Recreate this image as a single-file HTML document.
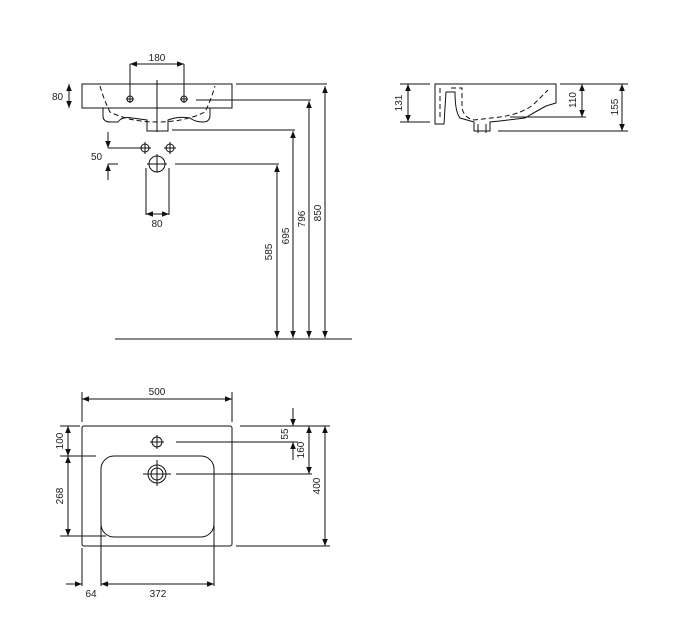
<!DOCTYPE html>
<html><head><meta charset="utf-8"><style>
html,body{margin:0;padding:0;background:#fff;}
svg{display:block;}
text{font-family:"Liberation Sans",sans-serif;font-size:10px;fill:#222;}
</style></head><body>
<svg width="676" height="644" viewBox="0 0 676 644" xmlns="http://www.w3.org/2000/svg">
<defs>
<marker id="a" viewBox="0 0 10 10" refX="10" refY="5" markerWidth="7" markerHeight="7" orient="auto-start-reverse"><path d="M0,1 L10,5 L0,9 z" fill="#111"/></marker>
</defs>
<g stroke="#111" stroke-width="1" fill="none">
<!-- FRONT VIEW -->
<rect x="82" y="84" width="150" height="24"/>
<path d="M103,108 L103,117 Q104,122 110,122 L118,122 Q122,116 132,118 L147,120 L147,131 L168,131 L168,120 Q178,116 190,118 Q195,122 203,122 Q210,122 210,115 L210,108"/>
<path d="M100,86 Q104,100 110,112 Q130,122 157,122 Q185,122 205,112 Q211,100 215,86" stroke-dasharray="5,3"/>
<line x1="157" y1="80" x2="157" y2="132"/>
<circle cx="130" cy="99" r="3"/><line x1="126" y1="99" x2="134" y2="99"/><line x1="130" y1="95" x2="130" y2="103"/>
<circle cx="184" cy="99" r="3"/><line x1="180" y1="99" x2="188" y2="99"/><line x1="184" y1="95" x2="184" y2="103"/>
<line x1="130" y1="64" x2="130" y2="98"/><line x1="184" y1="64" x2="184" y2="98"/>
<line x1="130" y1="64" x2="184" y2="64" marker-start="url(#a)" marker-end="url(#a)"/>
<line x1="69" y1="84" x2="69" y2="108" marker-start="url(#a)" marker-end="url(#a)"/>
<line x1="236" y1="84" x2="327" y2="84"/>
<line x1="196" y1="100" x2="311" y2="100"/>
<line x1="172" y1="130" x2="295" y2="130"/>
<line x1="175" y1="164" x2="279" y2="164"/>
<line x1="325" y1="86" x2="325" y2="338" marker-start="url(#a)" marker-end="url(#a)"/>
<line x1="309" y1="101" x2="309" y2="338" marker-start="url(#a)" marker-end="url(#a)"/>
<line x1="293" y1="131" x2="293" y2="338" marker-start="url(#a)" marker-end="url(#a)"/>
<line x1="277" y1="165" x2="277" y2="338" marker-start="url(#a)" marker-end="url(#a)"/>
<line x1="115" y1="339" x2="352" y2="339"/>
<!-- outlets -->
<circle cx="145" cy="148" r="4"/><line x1="139" y1="148" x2="151" y2="148"/><line x1="145" y1="142" x2="145" y2="154"/>
<circle cx="170" cy="148" r="4"/><line x1="164" y1="148" x2="176" y2="148"/><line x1="170" y1="142" x2="170" y2="154"/>
<circle cx="157" cy="164" r="8"/><line x1="147" y1="164" x2="167" y2="164"/><line x1="157" y1="154" x2="157" y2="172"/>
<line x1="108" y1="148" x2="141" y2="148"/><line x1="108" y1="164" x2="118" y2="164"/>
<line x1="108" y1="132" x2="108" y2="148" marker-end="url(#a)"/>
<line x1="108" y1="180" x2="108" y2="164" marker-end="url(#a)"/>
<line x1="146" y1="168" x2="146" y2="215"/><line x1="169" y1="168" x2="169" y2="215"/>
<line x1="146" y1="214" x2="169" y2="214" marker-start="url(#a)" marker-end="url(#a)"/>
<!-- SIDE VIEW -->
<path d="M435,84 L556,84 L556,103 L546,106 Q535,112 525,118 L500,121 L490,122 L490,131 L474,131 L474,122 L460,118 Q455,112 455,92 L446,92 L444,124 L435,124 Z"/>
<path d="M440,88 L440,120 M451,88 L462,88 L462,108 Q464,118 474,120 L500,117 Q522,114 534,104 L548,90" stroke-dasharray="5,3"/>
<line x1="478" y1="124" x2="478" y2="133"/><line x1="486" y1="124" x2="486" y2="133"/>
<line x1="400" y1="84" x2="430" y2="84"/><line x1="400" y1="122" x2="430" y2="122"/>
<line x1="408" y1="84" x2="408" y2="122" marker-start="url(#a)" marker-end="url(#a)"/>
<line x1="560" y1="84" x2="628" y2="84"/>
<line x1="510" y1="117" x2="586" y2="117"/>
<line x1="498" y1="131" x2="628" y2="131"/>
<line x1="582" y1="84" x2="582" y2="117" marker-start="url(#a)" marker-end="url(#a)"/>
<line x1="622" y1="84" x2="622" y2="131" marker-start="url(#a)" marker-end="url(#a)"/>
<!-- PLAN VIEW -->
<rect x="82" y="426" width="150" height="120" rx="2"/>
<rect x="101" y="456" width="113" height="81" rx="13"/>
<circle cx="157" cy="442" r="5"/><line x1="150" y1="442" x2="164" y2="442"/><line x1="157" y1="435" x2="157" y2="449"/>
<circle cx="157" cy="474" r="9"/><circle cx="157" cy="474" r="6"/>
<line x1="143" y1="474" x2="171" y2="474"/><line x1="157" y1="460" x2="157" y2="486"/>
<line x1="82" y1="392" x2="82" y2="422"/><line x1="232" y1="392" x2="232" y2="422"/>
<line x1="82" y1="399" x2="232" y2="399" marker-start="url(#a)" marker-end="url(#a)"/>
<line x1="60" y1="426" x2="80" y2="426"/><line x1="60" y1="456" x2="96" y2="456"/><line x1="60" y1="536" x2="106" y2="536"/>
<line x1="68" y1="426" x2="68" y2="456" marker-start="url(#a)" marker-end="url(#a)"/>
<line x1="68" y1="456" x2="68" y2="536" marker-start="url(#a)" marker-end="url(#a)"/>
<line x1="240" y1="426" x2="330" y2="426"/>
<line x1="176" y1="442" x2="298" y2="442"/>
<line x1="176" y1="474" x2="312" y2="474"/>
<line x1="236" y1="546" x2="330" y2="546"/>
<line x1="293" y1="408" x2="293" y2="426" marker-end="url(#a)"/>
<line x1="293" y1="460" x2="293" y2="442" marker-end="url(#a)"/>
<line x1="309" y1="426" x2="309" y2="474" marker-start="url(#a)" marker-end="url(#a)"/>
<line x1="325" y1="426" x2="325" y2="546" marker-start="url(#a)" marker-end="url(#a)"/>
<line x1="82" y1="548" x2="82" y2="586"/><line x1="101" y1="524" x2="101" y2="586"/><line x1="214" y1="500" x2="214" y2="586"/>
<line x1="66" y1="584" x2="82" y2="584" marker-end="url(#a)"/>
<line x1="101" y1="584" x2="214" y2="584" marker-start="url(#a)" marker-end="url(#a)"/>
</g>
<g>
<text x="157" y="61" text-anchor="middle">180</text>
<text x="52" y="100">80</text>
<text x="91" y="160">50</text>
<text x="157" y="227" text-anchor="middle">80</text>
<text transform="translate(272,252) rotate(-90)" text-anchor="middle">585</text>
<text transform="translate(289,236) rotate(-90)" text-anchor="middle">695</text>
<text transform="translate(305,219) rotate(-90)" text-anchor="middle">796</text>
<text transform="translate(321,213) rotate(-90)" text-anchor="middle">850</text>
<text transform="translate(402,103) rotate(-90)" text-anchor="middle">131</text>
<text transform="translate(576,100) rotate(-90)" text-anchor="middle">110</text>
<text transform="translate(618,107) rotate(-90)" text-anchor="middle">155</text>
<text x="157" y="395" text-anchor="middle">500</text>
<text transform="translate(63,441) rotate(-90)" text-anchor="middle">100</text>
<text transform="translate(63,496) rotate(-90)" text-anchor="middle">268</text>
<text transform="translate(288,434) rotate(-90)" text-anchor="middle">55</text>
<text transform="translate(304,450) rotate(-90)" text-anchor="middle">160</text>
<text transform="translate(320,486) rotate(-90)" text-anchor="middle">400</text>
<text x="91" y="597" text-anchor="middle">64</text>
<text x="158" y="597" text-anchor="middle">372</text>
</g>
</svg>
</body></html>
